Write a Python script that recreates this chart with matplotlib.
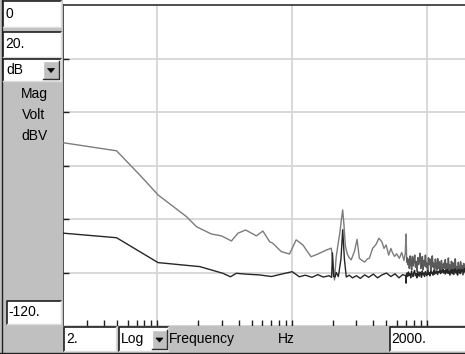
import numpy as np
import matplotlib
matplotlib.use("Agg")
import matplotlib.pyplot as plt
from matplotlib.patches import Rectangle, Polygon

W, H = 465, 354

# ---- data ----
upper_freq = [2.0, 4.97, 7.6, 10.1, 16.4, 19.5, 25.1, 29.8, 35.4, 39.6, 45.1, 54.2,
              60.6, 68.0, 71.5, 83.0, 95.5, 107, 120, 138, 155, 179, 195, 200, 206,
              212, 218, 226, 232, 237, 242, 248, 256, 265, 274, 290, 303, 315, 330, 345, 360,
              374, 395, 419, 440, 464, 480, 498, 520, 540, 556, 575, 595, 624, 650,
              675, 690, 700, 708]
upper_db = [-51.5, -54.5, -64.2, -71.0, -79.1, -82.9, -85.6, -86.3, -88.2, -85.3, -84.1, -86.3,
            -84.5, -88.5, -89.0, -92.2, -93.1, -87.8, -89.7, -94.1, -93.1, -91.6, -90.9, -96.0, -102.8,
            -94.2, -90.0, -85.0, -80.0, -76.6, -82.0, -90.0, -93.0, -94.5, -95.3, -92.0, -87.6, -94.7, -95.5,
            -96.1, -95.0, -94.6, -91.0, -89.5, -87.2, -88.6, -91.0, -89.7, -93.5, -91.0, -92.7, -94.0, -93.0,
            -94.7, -92.5, -95.5, -93.0, -85.6, -96.0]
upper_noise_db = [-94.5, -97.0, -95.0, -98.5, -93.8, -96.5, -99.0, -94.0, -97.5, -95.5,
                  -93.5, -98.0, -96.0, -99.5, -94.5, -97.0, -95.0, -92.8, -98.5, -96.0,
                  -94.0, -99.0, -95.5, -97.5, -93.5, -98.0, -96.5, -100.0, -94.5, -97.0,
                  -95.0, -99.5, -96.0, -93.8, -98.0, -96.5, -100.5, -95.0, -97.5, -99.0,
                  -94.8, -98.5, -96.0, -100.0, -97.0, -95.5, -99.5, -97.5, -96.5, -98.5,
                  -95.2, -99.2, -96.8, -100.2, -94.6, -98.8, -97.2, -100.6, -95.8, -98.2,
                  -96.4, -100.8, -97.0, -94.9, -99.6, -97.8, -101.0, -96.2, -98.6, -100.4,
                  -96.0, -99.8, -97.4, -100.9, -96.6, -98.9, -97.6, -100.3, -97.1, -99.0]

lower_freq = [2.0, 4.97, 10.1, 20.6, 30.6, 34.8, 38.5, 45, 57, 70, 85, 100, 113, 125,
              140, 155, 170, 188, 196, 199, 203, 208, 212, 220, 230, 237, 244, 252,
              265, 280, 300, 320, 345, 370, 400, 430, 460, 500, 540, 580, 620, 660, 695, 700, 705]
lower_db = [-85.3, -87.0, -96.3, -97.8, -100.3, -101.6, -100.3, -100.6, -100.9, -101.5, -100.5, -99.7,
            -101.6, -101.0, -101.8, -100.8, -101.7, -101.2, -101.8, -92.7, -101.5, -101.7, -100.0,
            -101.5, -95.0, -84.0, -95.0, -101.7, -101.0, -102.0, -101.2, -102.2, -100.9, -101.8,
            -100.6, -102.0, -101.0, -100.2, -101.5, -100.5, -102.0, -100.8, -101.2, -104.0, -100.5]
lower_noise_db = [-100.2, -101.5, -99.8, -101.0, -100.5, -102.0, -99.5, -100.8, -101.5, -100.0,
                  -99.2, -101.2, -100.4, -102.0, -99.6, -100.8, -101.4, -99.8, -100.6, -101.8,
                  -99.4, -100.9, -100.2, -101.5, -99.7, -100.5, -101.2, -99.3, -100.7, -100.0,
                  -101.3, -99.5, -100.4, -99.9, -101.0, -99.2, -100.6, -99.8, -100.2, -99.4,
                  -100.8, -99.6, -100.0, -99.1, -100.4, -99.5, -99.9, -98.8, -100.2, -99.3,
                  -100.6, -99.0, -100.1, -98.9, -100.3, -99.4, -101.0, -99.2, -100.0, -98.7,
                  -100.5, -99.1, -99.8, -98.6, -100.2, -99.3, -100.7, -98.9, -99.9, -99.0,
                  -100.4, -98.8, -99.6, -99.0, -100.1, -98.5, -99.7, -99.2, -100.0, -99.1]

y_top, y_second = "0", "20."
y_bottom = "-120."
x_left, x_right = "2.", "2000."
y_unit = "dB"
y_labels = ["Mag", "Volt", "dBV"]
x_scale = "Log"
x_label, x_unit = "Frequency", "Hz"

plt.rcParams['font.family'] = ['Liberation Sans', 'DejaVu Sans']

fig = plt.figure(figsize=(W / 100, H / 100), dpi=100, facecolor='white')

def frect(x0, y0, x1, y1):
    return (x0 / W, 1 - y1 / H, (x1 - x0) / W, (y1 - y0) / H)

def add_rect(x0, y0, x1, y1, fc, ec='none', lw=0, z=0):
    l, b, w, h = frect(x0, y0, x1, y1)
    fig.patches.append(Rectangle((l, b), w, h, transform=fig.transFigure,
                                 facecolor=fc, edgecolor=ec, linewidth=lw, zorder=z))

def fline(xs, ys, color, lw, z=2):
    fig.lines.append(plt.Line2D([x / W for x in xs], [1 - y / H for y in ys],
                                transform=fig.transFigure, color=color, lw=lw, zorder=z))

def sunken_box(x0, y0, x1, y1):
    add_rect(x0, y0, x1, y1, 'white', z=1)
    fline([x0, x0, x1], [y1, y0, y0], '#202020', 1.2)
    fline([x0, x1, x1], [y1, y1, y0], '#dcdcdc', 1.0)

def drop_button(x0, y0, x1, y1):
    add_rect(x0, y0, x1, y1, '#c0c0c0', z=3)
    fline([x0, x0, x1], [y1, y0, y0], '#ffffff', 1.0, z=4)
    fline([x0, x1, x1], [y1, y1, y0], '#303030', 1.0, z=4)
    cx, cy = (x0 + x1) / 2, (y0 + y1) / 2
    tri = [((cx - 3.5) / W, 1 - (cy - 1.5) / H), ((cx + 3.5) / W, 1 - (cy - 1.5) / H),
           (cx / W, 1 - (cy + 2.5) / H)]
    fig.patches.append(Polygon(tri, closed=True, transform=fig.transFigure,
                               facecolor='black', edgecolor='black', lw=0.5, zorder=5))

def ftext(x, y, s, **kw):
    fig.text(x / W, 1 - y / H, s, fontsize=10, color='black', zorder=6, **kw)

# panels
add_rect(0, 0, 63, H, '#c0c0c0')
add_rect(63, 326, W, H, '#c0c0c0')

# plot axes
ax = fig.add_axes(frect(63.3, 5, 467.5, 326))
ax.set_facecolor('white')
ax.set_xscale('log')
ax.set_xlim(2, 2000)
ax.set_ylim(-120, 0)

noise_freq_upper = np.geomspace(712, 2000, len(upper_noise_db))
noise_freq_lower = np.geomspace(710, 2000, len(lower_noise_db))
ax.plot(upper_freq, upper_db, color='#7c7c7c', lw=1.0, zorder=3)
ax.plot([upper_freq[-1]] + list(noise_freq_upper), [upper_db[-1]] + upper_noise_db,
        color='#5a5a5a', lw=1.1, zorder=3)
ax.plot(list(lower_freq) + list(noise_freq_lower), lower_db + lower_noise_db,
        color='#262626', lw=1.0, zorder=4)

for f in [10, 100, 1000]:
    ax.axvline(f, color='#d6d6d6', lw=1.3, zorder=1)
for d in [-20, -40, -60, -80, -100]:
    ax.axhline(d, color='#d6d6d6', lw=1.3, zorder=1)

ax.set_yticks([-20, -40, -60, -80, -100])
ax.set_xticks([10, 100, 1000])
ax.set_xticks([3, 4, 5, 6, 7, 8, 9, 20, 30, 40, 50, 60, 70, 80, 90,
               200, 300, 400, 500, 600, 700, 800, 900], minor=True)
ax.set_yticks([], minor=True)
ax.tick_params(axis='both', which='both', direction='in', length=4, width=1,
               color='#202020', labelleft=False, labelbottom=False)
ax.tick_params(axis='x', which='both', top=False)
ax.tick_params(axis='y', right=False)
for s in ['left', 'top']:
    ax.spines[s].set_color('#303030')
    ax.spines[s].set_linewidth(1.2)
ax.spines['bottom'].set_color('#303030')
ax.spines['bottom'].set_linewidth(1.0)
ax.spines['right'].set_visible(False)

# left panel controls
fline([1.5, 1.5], [0, H], '#202020', 1.0)
sunken_box(3, 1, 61, 27)
ftext(5, 14, y_top, va='center', ha='left')
sunken_box(3, 32, 61, 57)
ftext(5, 44, y_second, va='center', ha='left')
sunken_box(3, 59, 61, 81)
ftext(6, 70, y_unit, va='center', ha='left')
drop_button(43, 61, 59, 79)
for i, lab in enumerate(y_labels):
    ftext(34, 94 + 21 * i, lab, va='center', ha='center')
sunken_box(7, 301, 61, 324)
ftext(8, 312, y_bottom, va='center', ha='left')

# bottom panel controls
fline([0, W], [352.5, 352.5], '#202020', 1.0)
sunken_box(64, 327, 116, 351)
ftext(66, 339, x_left, va='center', ha='left')
sunken_box(119, 327, 168, 351)
ftext(121, 339, x_scale, va='center', ha='left')
drop_button(152, 330, 167, 349)
ftext(169, 339, x_label, va='center', ha='left')
ftext(278, 339, x_unit, va='center', ha='left')
sunken_box(390, 327, 466, 351)
ftext(391, 339, x_right, va='center', ha='left')

fig.savefig('out.png', dpi=100, facecolor=fig.get_facecolor())
